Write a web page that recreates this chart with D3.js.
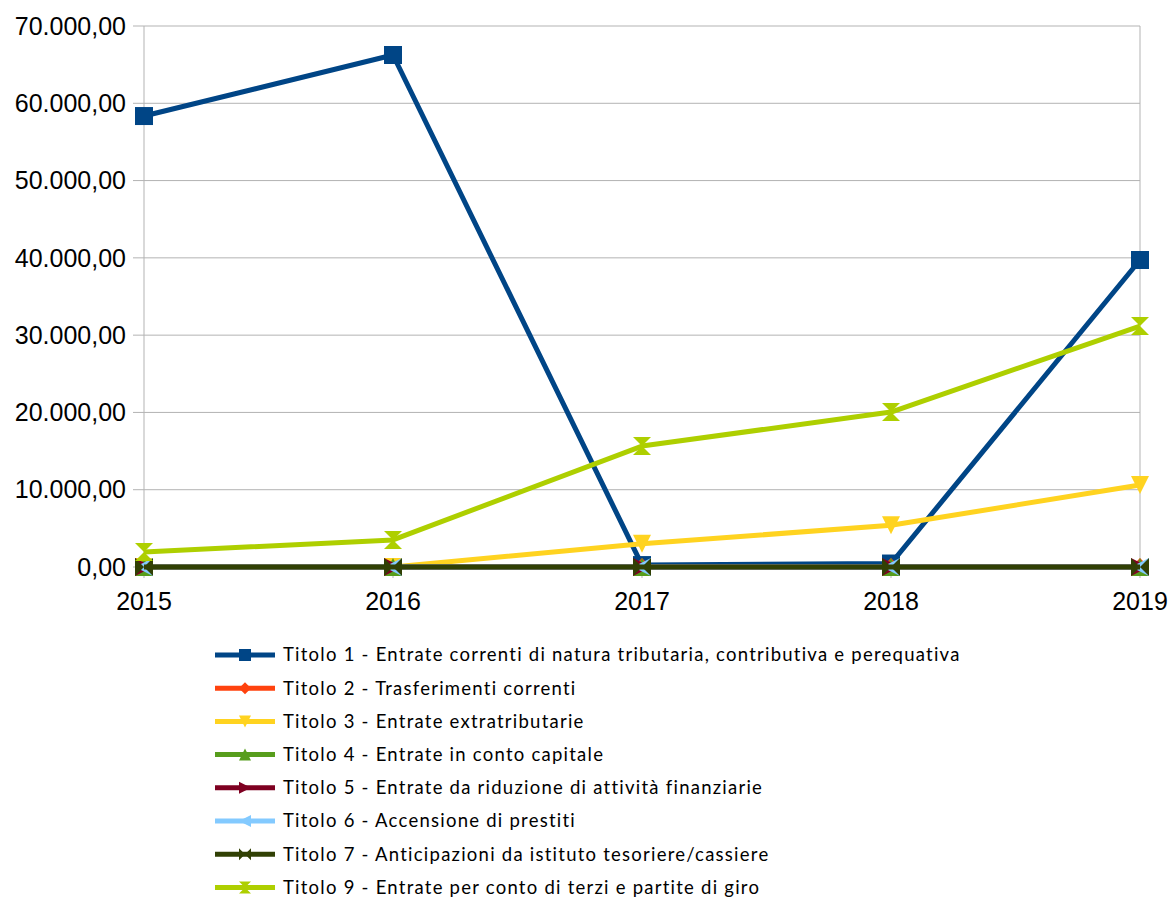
<!DOCTYPE html>
<html><head><meta charset="utf-8">
<script src="https://cdn.jsdelivr.net/npm/d3@7"></script>
<style>body{margin:0;background:#fff}svg{display:block}</style>
</head><body>
<script>
const years = ["2015","2016","2017","2018","2019"];
const seriesNames = [
  "Titolo 1 - Entrate correnti di natura tributaria, contributiva e perequativa",
  "Titolo 2 - Trasferimenti correnti",
  "Titolo 3 - Entrate extratributarie",
  "Titolo 4 - Entrate in conto capitale",
  "Titolo 5 - Entrate da riduzione di attività finanziarie",
  "Titolo 6 - Accensione di prestiti",
  "Titolo 7 - Anticipazioni da istituto tesoriere/cassiere",
  "Titolo 9 - Entrate per conto di terzi e partite di giro"
];
const titolo1 = [58350, 66250, 250, 450, 39720];
const titolo2 = [0, 0, 0, 0, 0];
const titolo3 = [0, 0, 3000, 5400, 10600];
const titolo4 = [0, 0, 0, 0, 0];
const titolo5 = [0, 0, 0, 0, 0];
const titolo6 = [0, 0, 0, 0, 0];
const titolo7 = [0, 0, 0, 0, 0];
const titolo9 = [1950, 3500, 15650, 20050, 31180];
const yTicks = [0, 10000, 20000, 30000, 40000, 50000, 60000, 70000];
const colors = ["#004586","#ff420e","#ffd320","#579d1c","#7e0021","#83caff","#314004","#aecf00"];
const markers = ["square","diamond","down","up","right","left","bowtieH","bowtieV"];
const seriesValues = [titolo1,titolo2,titolo3,titolo4,titolo5,titolo6,titolo7,titolo9];

const W = 1168, H = 899;
const svg = d3.select("body").append("svg").attr("width", W).attr("height", H);
const x = d3.scalePoint().domain(years).range([144, 1140]);
const y = d3.scaleLinear().domain([0, 70000]).range([567, 26]);

const fmt = v => {
  const s = d3.format(",.2f")(v);
  return s.replace(/,/g, "#").replace(/\./g, ",").replace(/#/g, ".");
};

// gridlines
svg.append("g").selectAll("line").data(yTicks).join("line")
  .attr("x1", 133).attr("x2", 1140)
  .attr("y1", d => y(d)).attr("y2", d => y(d))
  .attr("stroke", "#b3b3b3").attr("stroke-width", 1);
// left axis and right border
svg.append("line").attr("x1", 144).attr("x2", 144).attr("y1", y(70000)).attr("y2", y(0) + 11)
  .attr("stroke", "#b3b3b3");
svg.append("line").attr("x1", 1140).attr("x2", 1140).attr("y1", y(70000)).attr("y2", y(0) + 11)
  .attr("stroke", "#b3b3b3");
// x ticks
svg.append("g").selectAll("line").data(years.slice(1,4)).join("line")
  .attr("x1", d => x(d)).attr("x2", d => x(d)).attr("y1", y(0)).attr("y2", y(0) + 11)
  .attr("stroke", "#b3b3b3");

// y labels
svg.append("g").selectAll("text").data(yTicks).join("text")
  .attr("x", 126).attr("y", d => y(d)).attr("dy", "0.35em")
  .attr("text-anchor", "end")
  .attr("font-family", "Liberation Sans, Arial, sans-serif").attr("font-size", 25)
  .attr("fill", "#000").text(d => fmt(d));
// x labels
svg.append("g").selectAll("text").data(years).join("text")
  .attr("x", d => x(d)).attr("y", 610)
  .attr("text-anchor", "middle")
  .attr("font-family", "Liberation Sans, Arial, sans-serif").attr("font-size", 25)
  .attr("fill", "#000").text(d => d);

function markerPath(type, s) {
  const h = s / 2;
  switch (type) {
    case "square": return `M${-h},${-h}H${h}V${h}H${-h}Z`;
    case "diamond": return `M0,${-h}L${h},0L0,${h}L${-h},0Z`;
    case "down": return `M${-h},${-h}H${h}L0,${h}Z`;
    case "up": return `M${-h},${h}H${h}L0,${-h}Z`;
    case "right": return `M${-h},${-h}L${h},0L${-h},${h}Z`;
    case "left": return `M${h},${-h}L${-h},0L${h},${h}Z`;
    case "bowtieH": return `M${-h},${-h}L${h},${h}V${-h}L${-h},${h}Z`;
    case "bowtieV": return `M${-h},${-h}H${h}L${-h},${h}H${h}Z`;
  }
}

const line = d3.line().x((d, i) => x(years[i])).y(d => y(d));
seriesValues.forEach((vals, k) => {
  const g = svg.append("g");
  g.append("path").datum(vals).attr("d", line)
    .attr("fill", "none").attr("stroke", colors[k]).attr("stroke-width", 5)
    .attr("stroke-linejoin", "round");
  g.selectAll("path.m").data(vals).join("path").attr("class", "m")
    .attr("transform", (d, i) => `translate(${x(years[i])},${y(d)})`)
    .attr("d", markerPath(markers[k], 18))
    .attr("fill", colors[k]);
});

// legend
const lg = svg.append("g");
seriesNames.forEach((name, k) => {
  const yy = 655 + k * 33.2;
  lg.append("line").attr("x1", 215).attr("x2", 275).attr("y1", yy).attr("y2", yy)
    .attr("stroke", colors[k]).attr("stroke-width", 5);
  lg.append("path").attr("transform", `translate(245,${yy})`)
    .attr("d", markerPath(markers[k], 12)).attr("fill", colors[k]);
  lg.append("text").attr("x", 283).attr("y", yy).attr("dy", "0.35em")
    .attr("font-family", "Lato, Carlito, sans-serif").attr("font-size", 18.5)
    .attr("letter-spacing", 1.24)
    .attr("fill", "#000").text(name);
});
</script>
</body></html>
